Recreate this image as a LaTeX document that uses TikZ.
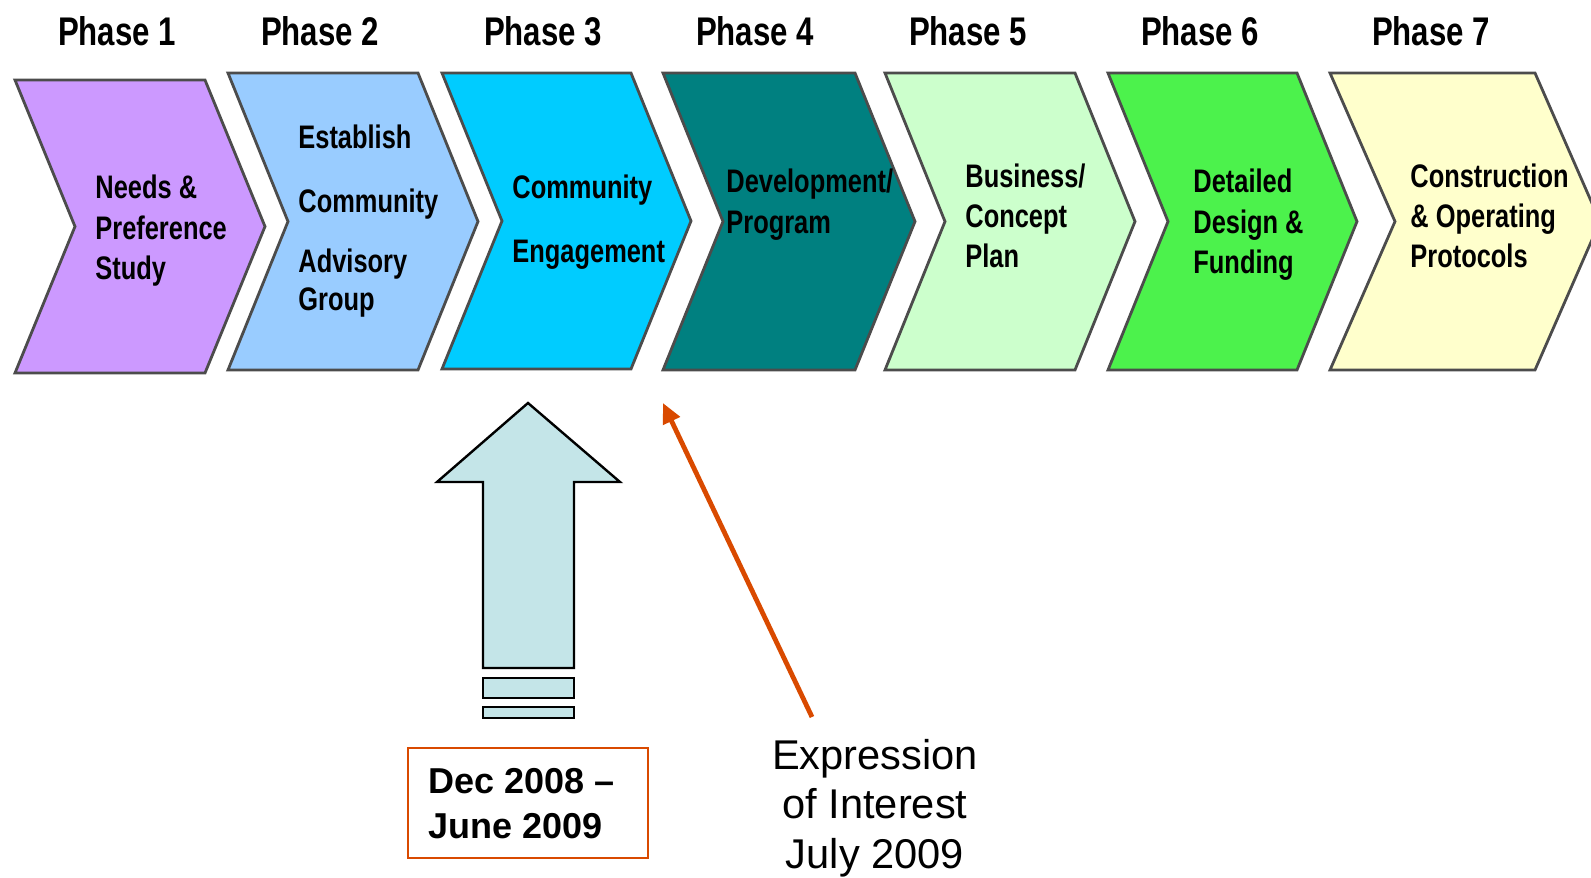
\documentclass[tikz,border=0pt]{standalone}
\usepackage{fontspec}
\setmainfont{Liberation Sans}
\newfontfamily\narrowfont[FakeStretch=0.78]{Liberation Sans}
\usetikzlibrary{arrows.meta}
\definecolor{cA}{HTML}{CC99FF}
\definecolor{cB}{HTML}{99CCFF}
\definecolor{cC}{HTML}{00CCFF}
\definecolor{cD}{HTML}{008080}
\definecolor{cE}{HTML}{CCFFCC}
\definecolor{cF}{HTML}{4CF24C}
\definecolor{cG}{HTML}{FFFFCC}
\definecolor{arrowfill}{HTML}{C4E5E8}
\definecolor{orangered}{HTML}{D94A00}
\newcommand\chevshape[6]{%
  \draw[chev, fill=#5] (#1,#2) -- ({#1+#4},#2) -- ({#1+#4+#6},{(#2+#3)/2}) -- ({#1+#4},#3) -- (#1,#3) -- ({#1+#6},{(#2+#3)/2}) -- cycle;}
\begin{document}
\begin{tikzpicture}[x=0.5pt,y=-0.5pt,
  chev/.style={draw=black!70, line width=1.4pt, line join=miter},
  phase/.style={anchor=base, inner sep=0pt, font=\narrowfont\bfseries\fontsize{20}{22}\selectfont},
  ctext/.style={anchor=base west, inner sep=0pt, font=\narrowfont\bfseries\fontsize{16.3}{18}\selectfont},
  bigarrow/.style={draw=black, line width=1.2pt, fill=arrowfill, line join=miter},
  datetext/.style={anchor=base west, inner sep=0pt, font=\bfseries\fontsize{18}{20}\selectfont},
  eoitext/.style={anchor=base, inner sep=0pt, font=\fontsize{20.8}{22}\selectfont},
  eoiarrow/.style={draw=orangered, line width=2.4pt, -{Triangle[length=10pt,width=9pt]}}
]
\path[use as bounding box] (0,0) rectangle (1591,878);
\clip (0,0) rectangle (1591,878);

% phase labels
\node[phase] (p1) at (117,46) {Phase 1};
\node[phase] (p2) at (320,46) {Phase 2};
\node[phase] (p3) at (543,46) {Phase 3};
\node[phase] (p4) at (755,46) {Phase 4};
\node[phase] (p5) at (968,46) {Phase 5};
\node[phase] (p6) at (1200,46) {Phase 6};
\node[phase] (p7) at (1431,46) {Phase 7};

% chevrons
\chevshape{15}{80}{373}{190}{cA}{60}
\chevshape{228}{73}{370}{190}{cB}{60}
\chevshape{442}{73}{369}{189}{cC}{60}
\chevshape{663}{73}{370}{192}{cD}{60}
\chevshape{885}{73}{370}{190}{cE}{60}
\chevshape{1108}{73}{370}{189}{cF}{60}
\chevshape{1330}{73}{370}{205}{cG}{65}

% chevron texts
\node[ctext] (t1a) at (95,198) {Needs \&};
\node[ctext] (t1b) at (95,239) {Preference};
\node[ctext] (t1c) at (95,279) {Study};

\node[ctext] (t2a) at (298,148) {Establish};
\node[ctext] (t2b) at (298,212) {Community};
\node[ctext] (t2c) at (298,272) {Advisory};
\node[ctext] (t2d) at (298,310) {Group};

\node[ctext] (t3a) at (512,198) {Community};
\node[ctext] (t3b) at (512,262) {Engagement};

\node[ctext] (t4a) at (726,192) {Development/};
\node[ctext] (t4b) at (726,233) {Program};

\node[ctext] (t5a) at (965,187) {Business/};
\node[ctext] (t5b) at (965,227) {Concept};
\node[ctext] (t5c) at (965,267) {Plan};

\node[ctext] (t6a) at (1193,192) {Detailed};
\node[ctext] (t6b) at (1193,233) {Design \&};
\node[ctext] (t6c) at (1193,273) {Funding};

\node[ctext] (t7a) at (1410,187) {Construction};
\node[ctext] (t7b) at (1410,227) {\& Operating};
\node[ctext] (t7c) at (1410,267) {Protocols};

% block arrow
\draw[bigarrow] (528,403) -- (620,482) -- (574,482) -- (574,668) -- (483,668) -- (483,482) -- (437,482) -- cycle;
\draw[bigarrow] (483,678) rectangle (574,698);
\draw[bigarrow] (483,707) rectangle (574,718);

% date box
\draw[draw=orangered, line width=1pt] (408,748) rectangle (648,858);
\node[datetext] (d1) at (428,793) {Dec 2008 –};
\node[datetext] (d2) at (428,838) {June 2009};

% expression of interest
\node[eoitext] (e1) at (875,769) {Expression};
\node[eoitext] (e2) at (875,818) {of Interest};
\node[eoitext] (e3) at (875,868) {July 2009};
\coordinate (eoistart) at (812,717);
\coordinate (eoitip) at (663,403);
\draw[eoiarrow] (eoistart) -- (eoitip);
\end{tikzpicture}
\end{document}
